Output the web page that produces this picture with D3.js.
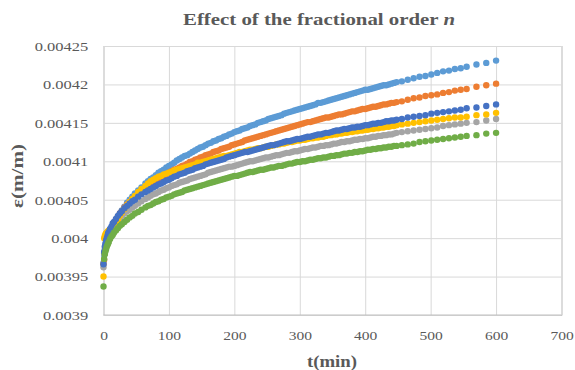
<!DOCTYPE html>
<html>
<head>
<meta charset="utf-8">
<script src="https://cdn.jsdelivr.net/npm/d3@7"></script>
<style>
  body { margin: 0; background: #fff; }
  text { font-family: 'Liberation Serif', 'Times New Roman', serif; fill: #595959; }
</style>
</head>
<body>
<svg id="chart" width="575" height="370"></svg>
<script>
// time (min), shared by every series
const times = [
  0, 1, 2, 3, 4, 5, 6, 7, 8,
  10, 12, 14, 16, 19, 22, 25, 28, 32, 36, 40, 44, 48, 53, 58,
  64, 68, 72, 76, 80, 84, 88, 92, 96, 100,
  104, 108, 112, 116, 120, 124, 128, 132, 136, 140,
  144, 148, 152, 156, 160, 164, 168, 172, 176, 180,
  184, 188, 192, 196, 200, 204, 208, 212, 216, 220,
  224, 228, 232, 236, 240, 244, 248, 252, 256, 260,
  264, 268, 272, 276, 280, 284, 288, 292, 296, 300,
  304, 308, 312, 316, 320, 324, 328, 332, 336, 340,
  344, 348, 352, 356, 360, 364, 368, 372, 376, 380,
  384, 388, 392, 396, 400, 404, 408, 412, 416, 420,
  424, 428, 432, 436, 440, 444, 448,
  456, 465, 474, 483, 492, 501, 510, 519, 528, 537, 546, 555, 570, 585, 600
]

// strain (m/m) for each fractional order
const strain1 = [
  0.003968, 0.003978, 0.003984, 0.003988, 0.003991, 0.003994, 0.003997, 0.003999, 0.004001,
  0.004004, 0.004009, 0.004013, 0.004017, 0.004022, 0.004027, 0.004032, 0.004036, 0.004041, 0.004046, 0.004050, 0.004054, 0.004058, 0.004062, 0.004066,
  0.004071, 0.004074, 0.004077, 0.004079, 0.004082, 0.004085, 0.004087, 0.004089, 0.004092, 0.004094,
  0.004096, 0.004098, 0.004101, 0.004103, 0.004105, 0.004107, 0.004108, 0.004110, 0.004112, 0.004114,
  0.004116, 0.004118, 0.004119, 0.004121, 0.004123, 0.004124, 0.004126, 0.004127, 0.004129, 0.004130,
  0.004132, 0.004133, 0.004135, 0.004136, 0.004138, 0.004139, 0.004140, 0.004142, 0.004143, 0.004144,
  0.004146, 0.004147, 0.004148, 0.004150, 0.004151, 0.004152, 0.004153, 0.004155, 0.004156, 0.004157,
  0.004158, 0.004159, 0.004160, 0.004162, 0.004163, 0.004164, 0.004165, 0.004166, 0.004167, 0.004168,
  0.004169, 0.004170, 0.004171, 0.004172, 0.004173, 0.004174, 0.004176, 0.004176, 0.004177, 0.004178,
  0.004179, 0.004180, 0.004181, 0.004182, 0.004183, 0.004184, 0.004185, 0.004186, 0.004187, 0.004188,
  0.004189, 0.004190, 0.004191, 0.004192, 0.004193, 0.004193, 0.004194, 0.004195, 0.004196, 0.004197,
  0.004198, 0.004199, 0.004199, 0.004200, 0.004201, 0.004202, 0.004203,
  0.004204, 0.004206, 0.004208, 0.004210, 0.004211, 0.004213, 0.004215, 0.004217, 0.004218, 0.004220, 0.004221, 0.004223, 0.004226, 0.004228, 0.004231
]
const strain2 = [
  0.003966, 0.003972, 0.003980, 0.003986, 0.003991, 0.003994, 0.003998, 0.004001, 0.004003,
  0.004008, 0.004012, 0.004016, 0.004019, 0.004024, 0.004028, 0.004032, 0.004035, 0.004040, 0.004044, 0.004047, 0.004051, 0.004054, 0.004058, 0.004061,
  0.004065, 0.004068, 0.004070, 0.004072, 0.004075, 0.004077, 0.004079, 0.004081, 0.004083, 0.004085,
  0.004087, 0.004089, 0.004090, 0.004092, 0.004094, 0.004095, 0.004097, 0.004099, 0.004100, 0.004102,
  0.004103, 0.004105, 0.004106, 0.004108, 0.004109, 0.004110, 0.004112, 0.004113, 0.004114, 0.004116,
  0.004117, 0.004118, 0.004119, 0.004121, 0.004122, 0.004123, 0.004124, 0.004125, 0.004127, 0.004128,
  0.004129, 0.004130, 0.004131, 0.004132, 0.004133, 0.004134, 0.004135, 0.004136, 0.004137, 0.004138,
  0.004139, 0.004140, 0.004141, 0.004142, 0.004143, 0.004144, 0.004145, 0.004146, 0.004147, 0.004148,
  0.004149, 0.004150, 0.004151, 0.004151, 0.004152, 0.004153, 0.004154, 0.004155, 0.004156, 0.004157,
  0.004157, 0.004158, 0.004159, 0.004160, 0.004161, 0.004161, 0.004162, 0.004163, 0.004164, 0.004165,
  0.004165, 0.004166, 0.004167, 0.004168, 0.004168, 0.004169, 0.004170, 0.004171, 0.004171, 0.004172,
  0.004173, 0.004174, 0.004174, 0.004175, 0.004176, 0.004176, 0.004177,
  0.004178, 0.004180, 0.004182, 0.004183, 0.004185, 0.004186, 0.004187, 0.004189, 0.004190, 0.004192, 0.004193, 0.004194, 0.004197, 0.004199, 0.004201
]
const strain3 = [
  0.003962, 0.003980, 0.003986, 0.003991, 0.003994, 0.003997, 0.004000, 0.004002, 0.004004,
  0.004007, 0.004011, 0.004014, 0.004016, 0.004020, 0.004023, 0.004026, 0.004028, 0.004032, 0.004035, 0.004037, 0.004040, 0.004042, 0.004045, 0.004048,
  0.004051, 0.004053, 0.004055, 0.004057, 0.004058, 0.004060, 0.004062, 0.004063, 0.004065, 0.004066,
  0.004068, 0.004069, 0.004070, 0.004072, 0.004073, 0.004074, 0.004075, 0.004077, 0.004078, 0.004079,
  0.004080, 0.004081, 0.004082, 0.004083, 0.004085, 0.004086, 0.004087, 0.004088, 0.004089, 0.004090,
  0.004091, 0.004092, 0.004093, 0.004093, 0.004094, 0.004095, 0.004096, 0.004097, 0.004098, 0.004099,
  0.004100, 0.004100, 0.004101, 0.004102, 0.004103, 0.004104, 0.004105, 0.004105, 0.004106, 0.004107,
  0.004108, 0.004108, 0.004109, 0.004110, 0.004111, 0.004111, 0.004112, 0.004113, 0.004113, 0.004114,
  0.004115, 0.004116, 0.004116, 0.004117, 0.004118, 0.004118, 0.004119, 0.004120, 0.004120, 0.004121,
  0.004121, 0.004122, 0.004123, 0.004123, 0.004124, 0.004125, 0.004125, 0.004126, 0.004126, 0.004127,
  0.004128, 0.004128, 0.004129, 0.004129, 0.004130, 0.004130, 0.004131, 0.004132, 0.004132, 0.004133,
  0.004133, 0.004134, 0.004134, 0.004135, 0.004135, 0.004136, 0.004137,
  0.004138, 0.004139, 0.004140, 0.004141, 0.004142, 0.004143, 0.004144, 0.004146, 0.004147, 0.004148, 0.004149, 0.004150, 0.004151, 0.004153, 0.004155
]
const strain4 = [
  0.003950, 0.004000, 0.004003, 0.004005, 0.004006, 0.004007, 0.004008, 0.004009, 0.004010,
  0.004011, 0.004012, 0.004014, 0.004016, 0.004020, 0.004024, 0.004029, 0.004033, 0.004038, 0.004043, 0.004047, 0.004051, 0.004055, 0.004060, 0.004064,
  0.004068, 0.004071, 0.004074, 0.004076, 0.004078, 0.004080, 0.004081, 0.004083, 0.004084, 0.004085,
  0.004086, 0.004088, 0.004089, 0.004090, 0.004091, 0.004092, 0.004093, 0.004094, 0.004095, 0.004096,
  0.004098, 0.004098, 0.004099, 0.004100, 0.004101, 0.004102, 0.004103, 0.004104, 0.004105, 0.004106,
  0.004107, 0.004107, 0.004108, 0.004109, 0.004110, 0.004111, 0.004112, 0.004112, 0.004113, 0.004114,
  0.004115, 0.004115, 0.004116, 0.004117, 0.004117, 0.004118, 0.004119, 0.004119, 0.004120, 0.004121,
  0.004122, 0.004122, 0.004123, 0.004123, 0.004124, 0.004125, 0.004125, 0.004126, 0.004127, 0.004127,
  0.004128, 0.004128, 0.004129, 0.004130, 0.004130, 0.004131, 0.004131, 0.004132, 0.004132, 0.004133,
  0.004134, 0.004134, 0.004135, 0.004135, 0.004136, 0.004136, 0.004137, 0.004137, 0.004138, 0.004138,
  0.004139, 0.004139, 0.004140, 0.004140, 0.004141, 0.004141, 0.004142, 0.004142, 0.004143, 0.004143,
  0.004144, 0.004144, 0.004145, 0.004145, 0.004146, 0.004146, 0.004147,
  0.004148, 0.004149, 0.004150, 0.004151, 0.004152, 0.004153, 0.004154, 0.004155, 0.004156, 0.004157, 0.004157, 0.004158, 0.004160, 0.004161, 0.004163
]
const strain5 = [
  0.003966, 0.003982, 0.003989, 0.003993, 0.003997, 0.004000, 0.004003, 0.004006, 0.004008,
  0.004012, 0.004015, 0.004019, 0.004021, 0.004025, 0.004029, 0.004032, 0.004035, 0.004039, 0.004042, 0.004045, 0.004048, 0.004050, 0.004054, 0.004057,
  0.004060, 0.004062, 0.004064, 0.004066, 0.004068, 0.004070, 0.004071, 0.004073, 0.004075, 0.004076,
  0.004078, 0.004080, 0.004081, 0.004083, 0.004084, 0.004085, 0.004087, 0.004088, 0.004089, 0.004091,
  0.004092, 0.004093, 0.004094, 0.004096, 0.004097, 0.004098, 0.004099, 0.004100, 0.004101, 0.004102,
  0.004103, 0.004105, 0.004106, 0.004107, 0.004108, 0.004109, 0.004110, 0.004111, 0.004112, 0.004112,
  0.004113, 0.004114, 0.004115, 0.004116, 0.004117, 0.004118, 0.004119, 0.004120, 0.004121, 0.004121,
  0.004122, 0.004123, 0.004124, 0.004125, 0.004126, 0.004126, 0.004127, 0.004128, 0.004129, 0.004129,
  0.004130, 0.004131, 0.004132, 0.004132, 0.004133, 0.004134, 0.004135, 0.004135, 0.004136, 0.004137,
  0.004137, 0.004138, 0.004139, 0.004140, 0.004140, 0.004141, 0.004142, 0.004142, 0.004143, 0.004144,
  0.004144, 0.004145, 0.004145, 0.004146, 0.004147, 0.004147, 0.004148, 0.004149, 0.004149, 0.004150,
  0.004150, 0.004151, 0.004152, 0.004152, 0.004153, 0.004153, 0.004154,
  0.004155, 0.004157, 0.004158, 0.004159, 0.004160, 0.004162, 0.004163, 0.004164, 0.004165, 0.004166, 0.004167, 0.004169, 0.004170, 0.004172, 0.004174
]
const strain6 = [
  0.003937, 0.003973, 0.003979, 0.003983, 0.003986, 0.003989, 0.003991, 0.003993, 0.003995,
  0.003999, 0.004002, 0.004004, 0.004007, 0.004010, 0.004013, 0.004016, 0.004018, 0.004021, 0.004024, 0.004027, 0.004029, 0.004032, 0.004034, 0.004037,
  0.004040, 0.004042, 0.004043, 0.004045, 0.004047, 0.004048, 0.004050, 0.004051, 0.004053, 0.004054,
  0.004055, 0.004057, 0.004058, 0.004059, 0.004060, 0.004062, 0.004063, 0.004064, 0.004065, 0.004066,
  0.004067, 0.004068, 0.004069, 0.004070, 0.004071, 0.004072, 0.004073, 0.004074, 0.004075, 0.004076,
  0.004077, 0.004078, 0.004079, 0.004080, 0.004081, 0.004081, 0.004082, 0.004083, 0.004084, 0.004085,
  0.004086, 0.004086, 0.004087, 0.004088, 0.004089, 0.004089, 0.004090, 0.004091, 0.004092, 0.004092,
  0.004093, 0.004094, 0.004094, 0.004095, 0.004096, 0.004097, 0.004097, 0.004098, 0.004099, 0.004099,
  0.004100, 0.004100, 0.004101, 0.004102, 0.004102, 0.004103, 0.004104, 0.004104, 0.004105, 0.004105,
  0.004106, 0.004107, 0.004107, 0.004108, 0.004108, 0.004109, 0.004110, 0.004110, 0.004111, 0.004111,
  0.004112, 0.004112, 0.004113, 0.004113, 0.004114, 0.004115, 0.004115, 0.004116, 0.004116, 0.004117,
  0.004117, 0.004118, 0.004118, 0.004119, 0.004119, 0.004120, 0.004120,
  0.004121, 0.004122, 0.004123, 0.004125, 0.004126, 0.004127, 0.004128, 0.004129, 0.004130, 0.004131, 0.004132, 0.004133, 0.004134, 0.004136, 0.004137
]

const xTicks = [0, 100, 200, 300, 400, 500, 600, 700]
const yTicks = [0.0039, 0.00395, 0.004, 0.00405, 0.0041, 0.00415, 0.0042, 0.00425]
const yTickLabels = ['0.0039', '0.00395', '0.004', '0.00405', '0.0041', '0.00415', '0.0042', '0.00425']

const allSeries = [strain1, strain2, strain3, strain4, strain5, strain6]
const colors = ['#5b9bd5', '#ed7d31', '#a5a5a5', '#ffc000', '#4472c4', '#70ad47']

const svg = d3.select('#chart')

// soft edge so the close-packed markers read as a band, like the scan
svg.append('defs').append('filter')
    .attr('id', 'soft')
    .append('feGaussianBlur').attr('stdDeviation', 0.6)

const x = d3.scaleLinear().domain([0, 700]).range([103.5, 561.5])
const y = d3.scaleLinear().domain([0.0039, 0.00425]).range([315, 46])

// x axis + vertical grid
const gx = svg.append('g')
    .attr('transform', 'translate(0,' + y(0.0039) + ')')
    .call(d3.axisBottom(x).tickValues(xTicks).tickSize(-(y(0.0039) - y(0.00425))).tickPadding(15))
gx.select('.domain').attr('stroke', '#bfbfbf')
gx.selectAll('.tick line').attr('stroke', '#d9d9d9')
gx.selectAll('.tick text')
    .attr('font-size', 13.5).attr('transform', 'scale(1.15,1)')
    .style('fill', '#595959')

// y axis + horizontal grid
const gy = svg.append('g')
    .attr('transform', 'translate(' + x(0) + ',0)')
    .call(d3.axisLeft(y).tickValues(yTicks).tickSize(-(x(700) - x(0)))
        .tickFormat((d, i) => yTickLabels[i]))
gy.select('.domain').remove()
gy.selectAll('.tick line').attr('stroke', '#d9d9d9')
gy.selectAll('.tick text')
    .attr('x', -12.5).attr('font-size', 13.5).attr('transform', 'scale(1.22,1)')
    .style('fill', '#595959')

// bottom axis line drawn over the grid
svg.append('line')
    .attr('x1', x(0)).attr('x2', x(700))
    .attr('y1', y(0.0039)).attr('y2', y(0.0039))
    .attr('stroke', '#bfbfbf')

// series dots
allSeries.forEach((vals, s) => {
    svg.append('g')
        .attr('filter', 'url(#soft)')
        .selectAll('circle')
        .data(vals)
        .enter()
        .append('circle')
        .attr('cx', (d, i) => x(times[i]))
        .attr('cy', d => y(d))
        .attr('r', 3.2)
        .attr('fill', colors[s])
})

// legend (mostly clipped by the right edge in the reference)
svg.append('g').selectAll('circle')
    .data(colors)
    .enter()
    .append('circle')
    .attr('cx', 578)
    .attr('cy', (d, i) => 130 + i * 19)
    .attr('r', 3)
    .attr('fill', d => d)
    .attr('opacity', 0.6)

// title
const title = svg.append('text')
    .attr('x', 319).attr('y', 25)
    .attr('text-anchor', 'middle')
    .attr('font-size', 17).attr('font-weight', 'bold')
    .attr('textLength', 272).attr('lengthAdjust', 'spacingAndGlyphs')
title.append('tspan').text('Effect of the fractional order ')
title.append('tspan').attr('font-style', 'italic').text('n')

// axis titles
svg.append('text')
    .attr('transform', 'translate(23,176) rotate(-90)')
    .attr('text-anchor', 'middle')
    .attr('font-size', 16).attr('font-weight', 'bold')
    .attr('textLength', 64).attr('lengthAdjust', 'spacingAndGlyphs')
    .text('ε(m/m)')

svg.append('text')
    .attr('x', 332).attr('y', 367)
    .attr('text-anchor', 'middle')
    .attr('font-size', 16).attr('font-weight', 'bold')
    .attr('textLength', 50).attr('lengthAdjust', 'spacingAndGlyphs')
    .text('t(min)')
</script>
</body>
</html>
